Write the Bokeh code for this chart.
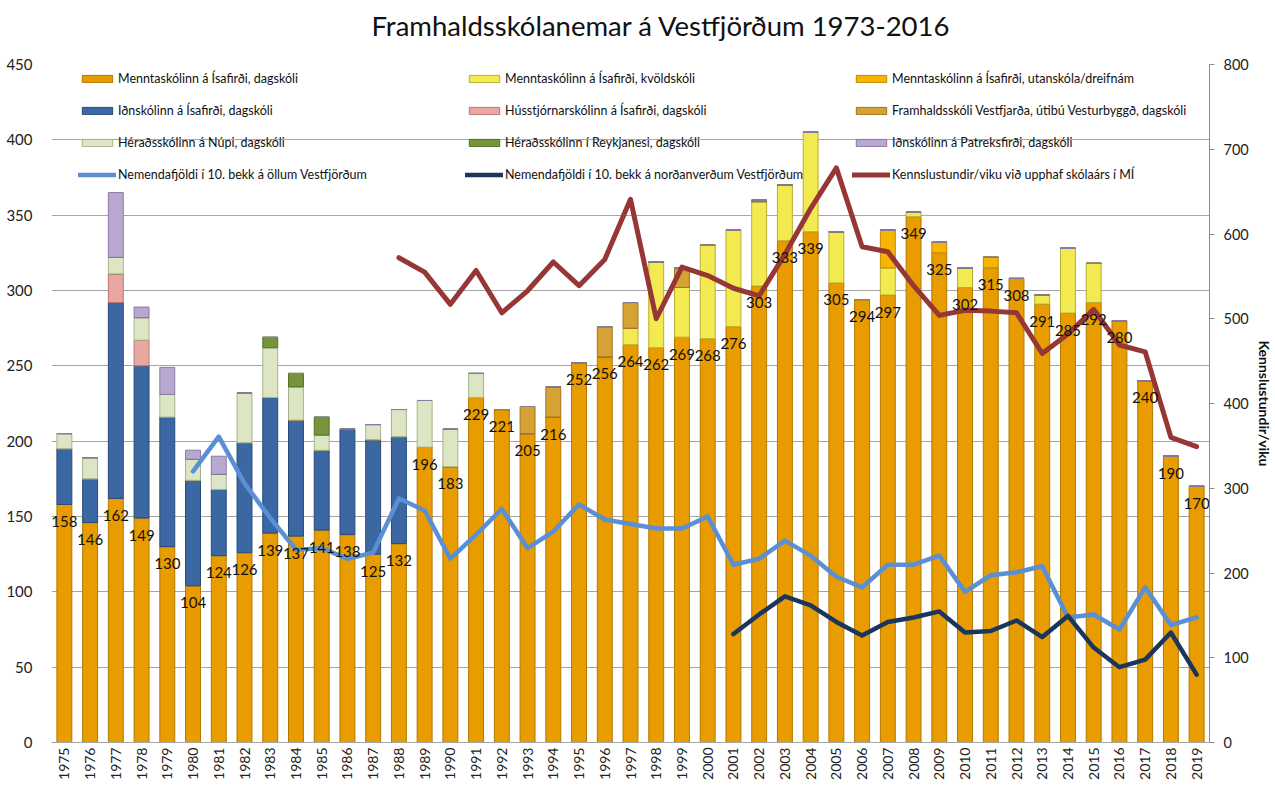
import math
from bokeh.plotting import figure
from bokeh.models import (Range1d, LinearAxis, Legend, LegendItem, ColumnDataSource,
                          SingleIntervalTicker, Title)
from bokeh.embed import file_html
from bokeh.resources import INLINE
from bokeh.core.properties import value

FONT = "Lato"

years = [str(y) for y in range(1975, 2020)]

# Stacked bar series (students), bottom to top
mi_dagskoli = [158, 146, 162, 149, 130, 104, 124, 126, 139, 137, 141, 138, 125, 132,
               196, 183, 229, 221, 205, 216, 252, 256, 264, 262, 269, 268, 276, 303,
               333, 339, 305, 294, 297, 349, 325, 302, 315, 308, 291, 285, 292, 280,
               240, 190, 170]
mi_kvoldskoli = [0, 0, 0, 0, 0, 0, 0, 0, 0, 0, 0, 0, 0, 0,
                 0, 0, 0, 0, 0, 0, 0, 0, 11, 57, 33, 62, 64, 56,
                 37, 66, 34, 0, 18, 3, 0, 13, 0, 0, 6, 43, 26, 0,
                 0, 0, 0]
mi_utanskola = [0, 0, 0, 0, 0, 0, 0, 0, 0, 0, 0, 0, 0, 0,
                0, 0, 0, 0, 0, 0, 0, 0, 0, 0, 0, 0, 0, 0,
                0, 0, 0, 0, 25, 0, 7, 0, 7, 0, 0, 0, 0, 0,
                0, 0, 0]
idn_isafirdi = [37, 29, 130, 101, 86, 70, 44, 73, 90, 77, 53, 70, 76, 71,
                0, 0, 0, 0, 0, 0, 0, 0, 0, 0, 0, 0, 0, 0,
                0, 0, 0, 0, 0, 0, 0, 0, 0, 0, 0, 0, 0, 0,
                0, 0, 0]
husstjorn = [0, 0, 19, 17, 0, 0, 0, 0, 0, 0, 0, 0, 0, 0,
             0, 0, 0, 0, 0, 0, 0, 0, 0, 0, 0, 0, 0, 0,
             0, 0, 0, 0, 0, 0, 0, 0, 0, 0, 0, 0, 0, 0,
             0, 0, 0]
fv_vesturbyggd = [0, 0, 0, 0, 0, 0, 0, 0, 0, 0, 0, 0, 0, 0,
                  0, 0, 0, 0, 18, 20, 0, 20, 17, 0, 13, 0, 0, 1,
                  0, 0, 0, 0, 0, 0, 0, 0, 0, 0, 0, 0, 0, 0,
                  0, 0, 0]
nupi = [10, 14, 11, 15, 15, 14, 10, 33, 33, 22, 10, 0, 10, 18,
        31, 25, 16, 0, 0, 0, 0, 0, 0, 0, 0, 0, 0, 0,
        0, 0, 0, 0, 0, 0, 0, 0, 0, 0, 0, 0, 0, 0,
        0, 0, 0]
reykjanes = [0, 0, 0, 0, 0, 0, 0, 0, 7, 9, 12, 0, 0, 0,
             0, 0, 0, 0, 0, 0, 0, 0, 0, 0, 0, 0, 0, 0,
             0, 0, 0, 0, 0, 0, 0, 0, 0, 0, 0, 0, 0, 0,
             0, 0, 0]
patreks = [0, 0, 43, 7, 18, 6, 12, 0, 0, 0, 0, 0, 0, 0,
           0, 0, 0, 0, 0, 0, 0, 0, 0, 0, 0, 0, 0, 0,
           0, 0, 0, 0, 0, 0, 0, 0, 0, 0, 0, 0, 0, 0,
           0, 0, 0]

# Line series
bekk10_all_years = [str(y) for y in range(1980, 2020)]
bekk10_all = [180, 203, 172, 149, 128, 129, 122, 126, 162, 154,
              122, 138, 155, 129, 140, 158, 148, 145, 142, 142,
              150, 118, 122, 134, 124, 110, 103, 118, 118, 124,
              100, 111, 113, 117, 83, 85, 75, 103, 78, 83]
bekk10_north_years = [str(y) for y in range(2001, 2020)]
bekk10_north = [72, 85, 97, 91, 80, 71, 80, 83, 87, 73, 74, 81, 70, 84, 63, 50, 55, 73, 45]
kennslu_years = [str(y) for y in range(1988, 2020)]
kennslustundir = [572, 555, 517, 557, 507, 533, 567, 539, 570, 641,
                  500, 561, 551, 536, 527, 576, 630, 678, 585, 579,
                  539, 504, 510, 509, 507, 459, 482, 511, 469, 461,
                  360, 349]

title_text = "Framhaldsskólanemar á Vestfjörðum 1973-2016"
right_axis_title = "Kennslustundir/viku"

bar_names = ["Menntaskólinn á Ísafirði, dagskóli",
             "Menntaskólinn á Ísafirði, kvöldskóli",
             "Menntaskólinn á Ísafirði, utanskóla/dreifnám",
             "Iðnskólinn á Ísafirði, dagskóli",
             "Hússtjórnarskólinn á Ísafirði, dagskóli",
             "Framhaldsskóli Vestfjarða, útibú Vesturbyggð, dagskóli",
             "Héraðsskólinn á Núpi, dagskóli",
             "Héraðsskólinn í Reykjanesi, dagskóli",
             "Iðnskólinn á Patreksfirði, dagskóli"]
line_names = ["Nemendafjöldi í 10. bekk á öllum Vestfjörðum",
              "Nemendafjöldi í 10. bekk á norðanverðum Vestfjörðum",
              "Kennslustundir/viku við upphaf skólaárs í MÍ"]

bar_fill = ["#E89C00", "#F3EA52", "#F8B400", "#3B68A3", "#E9A7A4",
            "#D6A234", "#DCE6C4", "#76943A", "#B8A7D0"]
bar_edge = ["#B37800", "#B8AE30", "#C08A00", "#284A78", "#B87674",
            "#A07420", "#A6B38C", "#55702A", "#8A7AA3"]
line_colors = ["#5A8FD6", "#1B365D", "#963735"]

stack_keys = ["s%d" % i for i in range(9)]
src = ColumnDataSource(dict(year=years, **{k: v for k, v in zip(stack_keys, [
    mi_dagskoli, mi_kvoldskoli, mi_utanskola, idn_isafirdi, husstjorn,
    fv_vesturbyggd, nupi, reykjanes, patreks])})
)

p = figure(x_range=years, y_range=Range1d(0, 450), width=1275, height=786,
           output_backend="svg", toolbar_location=None, title=title_text,
           min_border_left=51, min_border_right=62, min_border_top=64, min_border_bottom=44)
p.extra_y_ranges = {"right": Range1d(0, 800)}

p.title.text_font = FONT
p.title.text_font_size = "27.5px"
p.title.text_font_style = "normal"
p.title.text_color = "#111111"
p.title.align = "left"
p.title.offset = 320
p.title.standoff = 0

# spacer between the title and the plot frame
p.add_layout(Title(text=" ", text_font=FONT, text_font_size="14px", standoff=4), "above")

p.outline_line_color = None
p.background_fill_color = "white"
p.xgrid.grid_line_color = None
p.ygrid.grid_line_color = "#A6A6A6"
p.ygrid.ticker = SingleIntervalTicker(interval=50)

bars = p.vbar_stack(stack_keys, x="year", width=0.58, source=src,
                    fill_color=bar_fill, line_color=bar_edge, line_width=1)

r_all = p.line(bekk10_all_years, bekk10_all, line_width=4.5, color=line_colors[0],
               line_join="round", line_cap="round")
r_north = p.line(bekk10_north_years, bekk10_north, line_width=4.5, color=line_colors[1],
                 line_join="round", line_cap="round")
r_kenn = p.line(kennslu_years, kennslustundir, line_width=5, color=line_colors[2],
                y_range_name="right", line_join="round", line_cap="round")

p.text(x=years, y=mi_dagskoli, text=[str(v) for v in mi_dagskoli],
       text_align="center", text_baseline="middle", y_offset=17,
       text_font=value(FONT), text_font_size="15px", text_color="#111111")

# Axes
ya = p.yaxis[0]
ya.ticker = SingleIntervalTicker(interval=50)
ya.axis_line_color = None
ya.major_tick_line_color = None
ya.major_tick_out = 0
ya.minor_tick_line_color = None
ya.major_label_standoff = 15
ya.major_label_text_font = FONT
ya.major_label_text_font_size = "15px"
ya.major_label_text_color = "#222222"

xa = p.xaxis[0]
xa.axis_line_color = "#A6A6A6"
xa.major_tick_line_color = None
xa.major_tick_out = 0
xa.minor_tick_line_color = None
xa.major_label_orientation = math.pi / 2
xa.major_label_standoff = 5
xa.major_label_text_font = FONT
xa.major_label_text_font_size = "14px"
xa.major_label_text_color = "#222222"

ra = LinearAxis(y_range_name="right", axis_label=right_axis_title,
                ticker=SingleIntervalTicker(interval=100))
ra.axis_line_color = "#8C8C8C"
ra.major_tick_line_color = "#8C8C8C"
ra.major_tick_out = 5
ra.major_tick_in = 0
ra.minor_tick_line_color = None
ra.major_label_standoff = 9
ra.major_label_text_font = FONT
ra.major_label_text_font_size = "14.5px"
ra.major_label_text_color = "#222222"
ra.axis_label_text_font = FONT
ra.axis_label_text_font_size = "14px"
ra.axis_label_text_font_style = "bold"
ra.axis_label_text_color = "#111111"
ra.axis_label_standoff = 4
p.add_layout(ra, "right")

items = []
renderers = list(bars) + [r_all, r_north, r_kenn]
names = bar_names + line_names
for rend, name in zip(renderers, names):
    items.append(LegendItem(label=name, renderers=[rend]))

legend = Legend(items=items, orientation="horizontal", ncols=3,
                location=(27, 560), margin=0, padding=0, spacing=16,
                glyph_width=38, glyph_height=9, label_standoff=2,
                label_width=331, label_height=16,
                label_text_font=FONT, label_text_font_size="12.5px",
                label_text_color="#111111",
                border_line_color=None, background_fill_alpha=0)
p.add_layout(legend)

open("out.html", "w").write(file_html(p, INLINE))
